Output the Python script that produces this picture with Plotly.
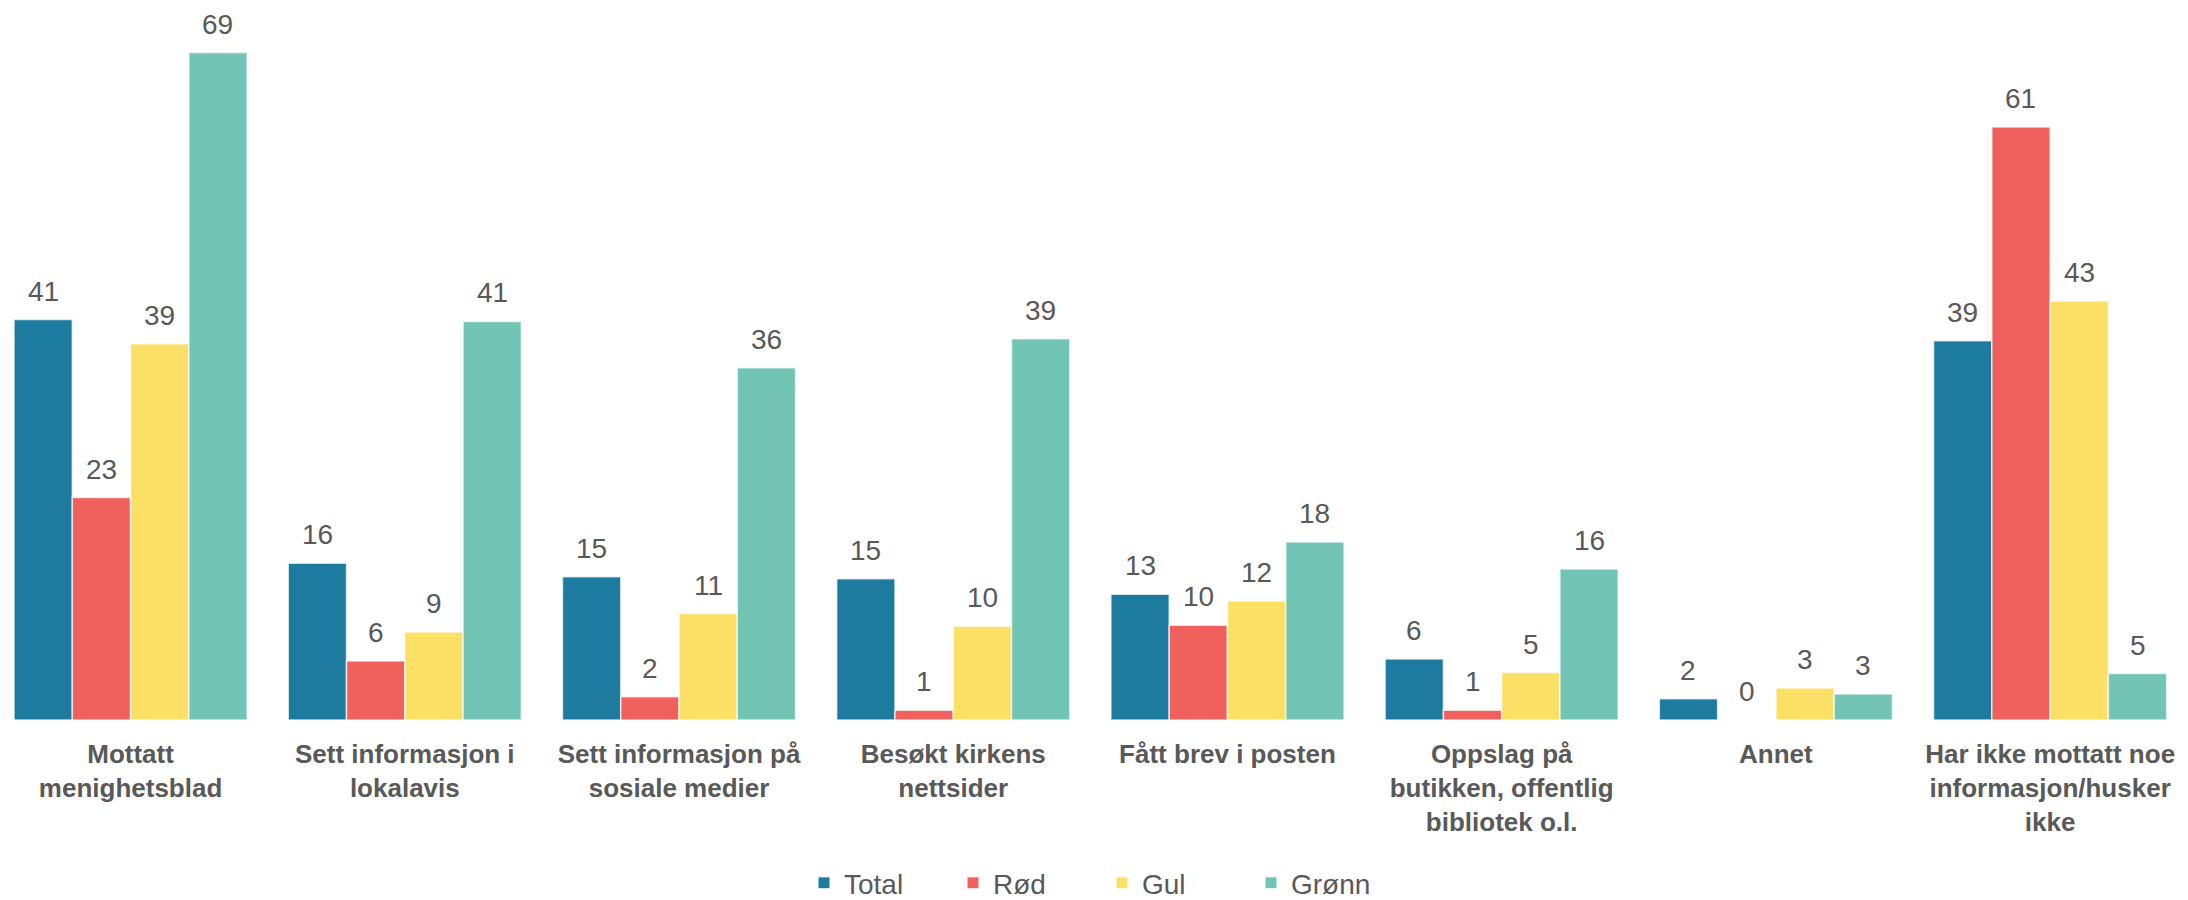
import plotly.graph_objects as go

categories = [
    "Mottatt<br>menighetsblad",
    "Sett informasjon i<br>lokalavis",
    "Sett informasjon på<br>sosiale medier",
    "Besøkt kirkens<br>nettsider",
    "Fått brev i posten",
    "Oppslag på<br>butikken, offentlig<br>bibliotek o.l.",
    "Annet",
    "Har ikke mottatt noe<br>informasjon/husker<br>ikke",
]
series_names = ["Total", "Rød", "Gul", "Grønn"]
total = [41.4, 16.2, 14.8, 14.6, 13.0, 6.3, 2.2, 39.2]
rod = [23.0, 6.1, 2.4, 1.0, 9.8, 1.0, 0.0, 61.3]
gul = [38.9, 9.1, 11.0, 9.7, 12.3, 4.9, 3.3, 43.3]
gronn = [69.0, 41.2, 36.4, 39.4, 18.4, 15.6, 2.7, 4.8]
colors = ["#1E7BA0", "#F0605C", "#FCE066", "#72C4B4"]

series = [total, rod, gul, gronn]
BARGAP = 0.15
n = len(series)
w = (1 - BARGAP) / n

fig = go.Figure()
for name, vals, col in zip(series_names, series, colors):
    fig.add_trace(go.Bar(
        x=list(range(len(categories))), y=vals, name=name,
        marker=dict(color=col, line=dict(color="rgba(255,255,255,0.7)", width=1.5)),
    ))

annotations = []
for j, vals in enumerate(series):
    for i, v in enumerate(vals):
        xc = i - (1 - BARGAP) / 2 + w * (j + 0.5)
        annotations.append(dict(
            x=xc, y=v, xref="x", yref="y", text=f"{round(v):d}",
            showarrow=False, yanchor="bottom", yshift=11,
            font=dict(family="Liberation Sans, Arial", size=28, color="#595959"),
        ))

fig.update_layout(
    width=2188, height=900,
    margin=dict(l=0, r=0, t=0, b=178),
    paper_bgcolor="white", plot_bgcolor="white",
    barmode="group", bargap=BARGAP, bargroupgap=0,
    showlegend=True,
    legend=dict(orientation="h", x=0.5, xanchor="center", y=-0.229, yanchor="middle",
                font=dict(family="Liberation Sans, Arial", size=28, color="#595959"),
                entrywidth=104, entrywidthmode="pixels", itemwidth=30),
    annotations=annotations,
    xaxis=dict(
        tickmode="array", tickvals=list(range(len(categories))), ticktext=categories,
        range=[-0.447, 7.532], showgrid=False, zeroline=False, showline=False,
        ticks="", ticklabelstandoff=16,
        tickfont=dict(family="Liberation Sans, Arial", size=26, color="#595959", weight="bold"),
    ),
    yaxis=dict(range=[0, 73.6], visible=False, showgrid=False, zeroline=False),
)

fig.write_html("out.html")
